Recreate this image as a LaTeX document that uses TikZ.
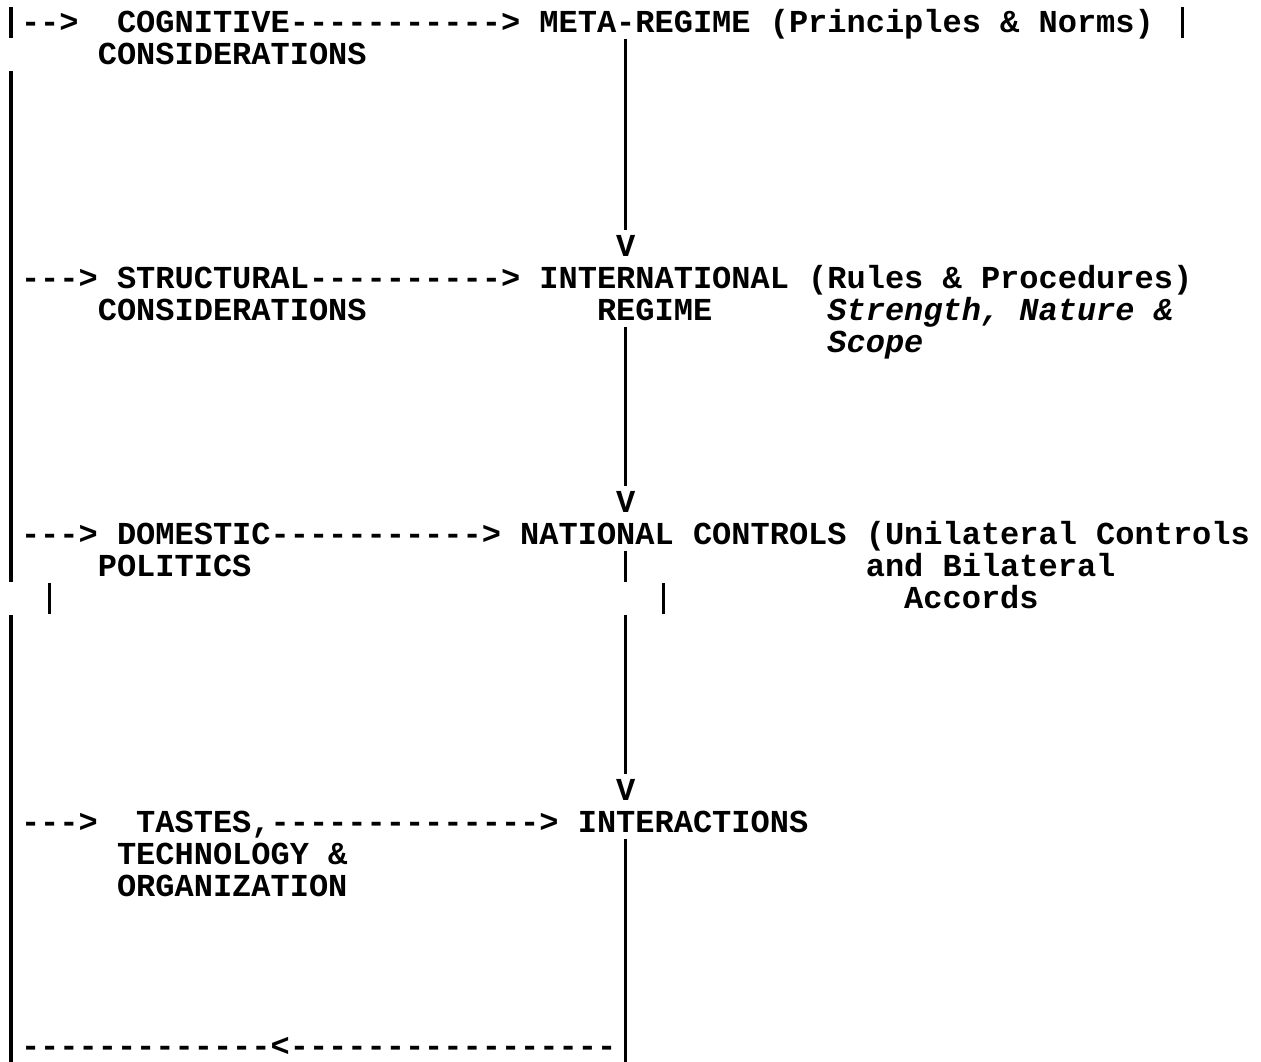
\documentclass[tikz,border=0pt]{standalone}
\usepackage{fontspec}
\newfontfamily\asciifont{Liberation Mono}[Ligatures=TeXOff]
\usepackage{tikz}
\tikzset{
  txt/.style={anchor=base west, inner sep=0pt, font=\asciifont\bfseries\fontsize{16pt}{16pt}\selectfont},
  slant/.style={txt, font=\asciifont\bfseries\itshape\fontsize{16pt}{16pt}\selectfont},
  bar/.style={line width=1.6pt, line cap=butt}
}

\begin{document}
\begin{tikzpicture}
\path[use as bounding box] (0,0) rectangle (630.5pt,-530.5pt);
% one unit = one character cell, (col,row) at the baseline
\begin{scope}[x=9.6pt, y=-16pt, shift={(0.7pt,-16pt)}]
% row 0
\node[txt] (in1) at (1,0) {-->};
\node[txt] (cog) at (6,0) {COGNITIVE};
\node[txt] (cogarr) at (15,0) {----------->};
\node[txt] (meta) at (28,0) {META-REGIME};
\node[txt] (metanote) at (40,0) {(Principles \& Norms)};
\node[txt] (cog2) at (5,1) {CONSIDERATIONS};
\node[txt] (v1) at (32,7) {V};
% row 8
\node[txt] (in2) at (1,8) {--->};
\node[txt] (str) at (6,8) {STRUCTURAL};
\node[txt] (strarr) at (16,8) {---------->};
\node[txt] (intl) at (28,8) {INTERNATIONAL};
\node[txt] (intlnote) at (42,8) {(Rules \& Procedures)};
\node[txt] (str2) at (5,9) {CONSIDERATIONS};
\node[txt] (intl2) at (31,9) {REGIME};
\node[slant] (snote) at (43,9) {Strength, Nature \&};
\node[slant] (snote2) at (43,10) {Scope};
\node[txt] (v2) at (32,15) {V};
% row 16
\node[txt] (in3) at (1,16) {--->};
\node[txt] (dom) at (6,16) {DOMESTIC};
\node[txt] (domarr) at (14,16) {----------->};
\node[txt] (nat) at (27,16) {NATIONAL CONTROLS};
\node[txt] (natnote) at (45,16) {(Unilateral Controls};
\node[txt] (dom2) at (5,17) {POLITICS};
\node[txt] (natnote2) at (45,17) {and Bilateral};
\node[txt] (natnote3) at (47,18) {Accords};
\node[txt] (v3) at (32,24) {V};
% row 25
\node[txt] (in4) at (1,25) {--->};
\node[txt] (tas) at (7,25) {TASTES,};
\node[txt] (tasarr) at (14,25) {-------------->};
\node[txt] (inter) at (30,25) {INTERACTIONS};
\node[txt] (tas2) at (6,26) {TECHNOLOGY \&};
\node[txt] (tas3) at (6,27) {ORGANIZATION};
% feedback row
\node[txt] (back) at (1,32) {-------------<-----------------};
% vertical bars: name/col/first row/last row
\foreach \n/\c/\a/\b in {l1/0/0/0, l2/0/2/17, l3/0/19/32, m1/32/1/6, m2/32/10/14,
    m3/32/17/17, m4/32/19/23, m5/32/26/32, s1/2/18/18, s2/34/18/18, r1/61/0/0} {
  \coordinate (\n-top) at (\c+.5,\a-.78);
  \coordinate (\n-bot) at (\c+.5,\b+.19);
  \draw[bar] (\n-top) -- (\n-bot);
}
\end{scope}
\end{tikzpicture}
\end{document}
